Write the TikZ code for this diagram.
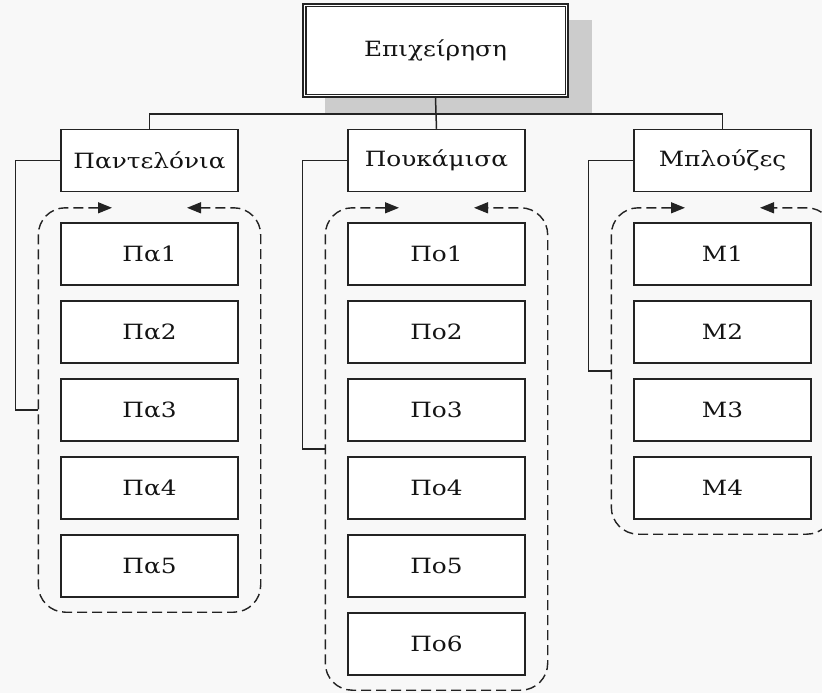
\documentclass[tikz,border=0pt]{standalone}
\usepackage{fontspec}
\setmainfont[FakeStretch=1.18]{DejaVu Serif}
\usetikzlibrary{arrows.meta,calc}
\definecolor{bgcol}{RGB}{248,248,248}
\definecolor{shadowcol}{RGB}{204,204,204}
\definecolor{linecol}{RGB}{35,35,35}
\definecolor{txtcol}{RGB}{20,20,20}
\begin{document}
\begin{tikzpicture}[x=1pt,y=-1pt,
  box/.style={draw=linecol,fill=white,line width=1.5pt,minimum width=177pt,minimum height=62pt,inner sep=0pt,text=txtcol,font=\fontsize{21}{25}\selectfont},
  topbox/.style={box,line width=1.3pt,minimum width=265pt,minimum height=93pt},
  frame/.style={draw=none,minimum width=222pt,inner sep=0pt},
  framepath/.style={linecol,line width=1.4pt,dash pattern=on 10pt off 5pt,rounded corners=27pt,
    {Triangle[length=14pt,width=11pt]}-{Triangle[length=14pt,width=11pt]}},
  conn/.style={draw=linecol,line width=1.5pt}]
\fill[bgcol] (0,0) rectangle (822,693);
\clip (0,0) rectangle (822,693);
\useasboundingbox (0,0) rectangle (822,693);

% shadow + top box
\fill[shadowcol] (325,20) rectangle (592,113);
\node[topbox] (top) at (435.5,50.5) {Επιχείρηση};
\draw[linecol,line width=1.3pt] ($(top.north west)+(3.5,3.5)$) rectangle ($(top.south east)+(-3.5,-3.5)$);

\node[box] (Pa) at (149.5,160.5) {Παντελόνια};
\node[box] (Po) at (436.5,160.5) {Πουκάμισα};
\node[box] (Mp) at (722.5,160.5) {Μπλούζες};

% frames
\node[frame,minimum height=404pt] (cPa) at (149.5,410) {};
\node[frame,minimum height=482pt] (cPo) at (436.5,449) {};
\node[frame,minimum height=326pt] (cMp) at (722.5,371) {};

\foreach \c in {cPa,cPo,cMp}{
  \draw[framepath] ([xshift=-37.5pt]\c.north) -- (\c.north west) -- (\c.south west) -- (\c.south east) -- (\c.north east) -- ([xshift=37.5pt]\c.north);
}

% item boxes
\node[box] (Pa1) at (149.5,254) {Πα1};
\node[box] (Pa2) at (149.5,332) {Πα2};
\node[box] (Pa3) at (149.5,410) {Πα3};
\node[box] (Pa4) at (149.5,488) {Πα4};
\node[box] (Pa5) at (149.5,566) {Πα5};

\node[box] (Po1) at (436.5,254) {Πο1};
\node[box] (Po2) at (436.5,332) {Πο2};
\node[box] (Po3) at (436.5,410) {Πο3};
\node[box] (Po4) at (436.5,488) {Πο4};
\node[box] (Po5) at (436.5,566) {Πο5};
\node[box] (Po6) at (436.5,644) {Πο6};

\node[box] (M1) at (722.5,254) {Μ1};
\node[box] (M2) at (722.5,332) {Μ2};
\node[box] (M3) at (722.5,410) {Μ3};
\node[box] (M4) at (722.5,488) {Μ4};

% tree connectors
\coordinate (bus) at (435.5,114);
\draw[conn] (Pa.north) -- (Pa.north |- bus) -- (Mp.north |- bus) -- (Mp.north);
\draw[conn] (top.south) -- (Po.north);

% side connectors
\draw[conn] (Pa.west) -- ++(-45,0) |- (cPa.west);
\draw[conn] (Po.west) -- ++(-45,0) |- (cPo.west);
\draw[conn] (Mp.west) -- ++(-45,0) |- (cMp.west);
\end{tikzpicture}
\end{document}
